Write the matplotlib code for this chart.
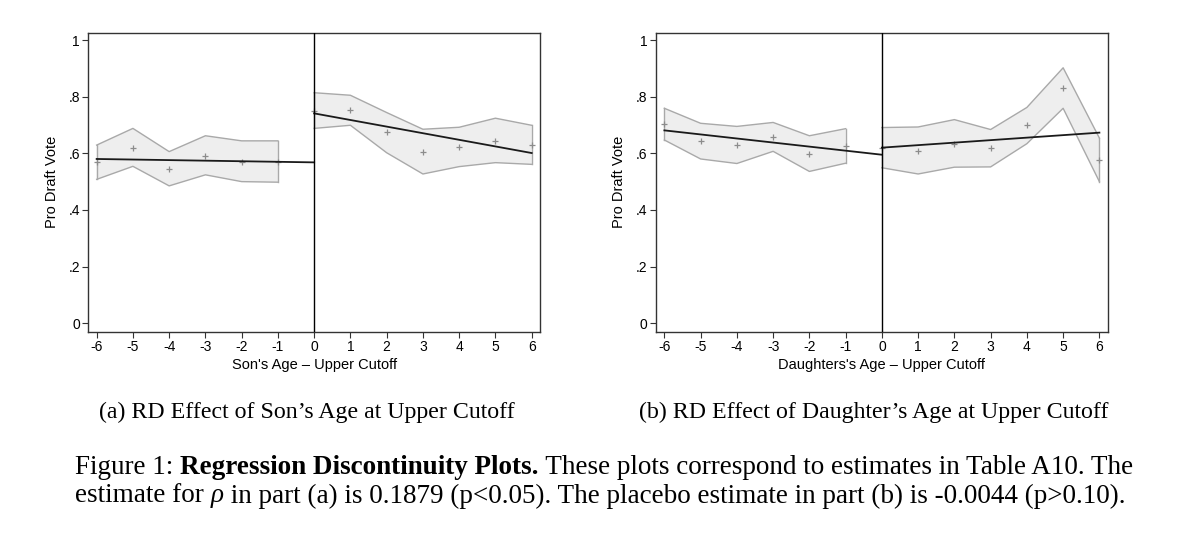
import matplotlib
matplotlib.use("Agg")
import matplotlib.pyplot as plt
import numpy as np

# ---------------- data ----------------
son_x_left = [-6, -5, -4, -3, -2, -1]
son_y_left = [0.568, 0.620, 0.545, 0.592, 0.571, 0.570]
son_hi_left = [0.629, 0.688, 0.606, 0.662, 0.644, 0.644]
son_lo_left = [0.508, 0.554, 0.485, 0.524, 0.500, 0.498]
son_fit_left_x = [-6, 0]
son_fit_left_y = [0.580, 0.568]

son_x_right = [0, 1, 2, 3, 4, 5, 6]
son_y_right = [0.751, 0.752, 0.674, 0.605, 0.622, 0.645, 0.629]
son_hi_right = [0.814, 0.805, 0.744, 0.685, 0.692, 0.724, 0.699]
son_lo_right = [0.688, 0.699, 0.602, 0.527, 0.553, 0.567, 0.561]
son_fit_right_x = [0, 6]
son_fit_right_y = [0.741, 0.601]

dau_x_left = [-6, -5, -4, -3, -2, -1]
dau_y_left = [0.702, 0.644, 0.629, 0.658, 0.599, 0.626]
dau_hi_left = [0.759, 0.706, 0.695, 0.709, 0.662, 0.687]
dau_lo_left = [0.647, 0.580, 0.564, 0.607, 0.536, 0.565]
dau_fit_left_x = [-6, 0]
dau_fit_left_y = [0.681, 0.595]

dau_x_right = [0, 1, 2, 3, 4, 5, 6]
dau_y_right = [0.620, 0.609, 0.633, 0.618, 0.699, 0.829, 0.575]
dau_hi_right = [0.691, 0.693, 0.719, 0.684, 0.762, 0.902, 0.654]
dau_lo_right = [0.549, 0.527, 0.551, 0.552, 0.634, 0.759, 0.500]
dau_fit_right_x = [0, 6]
dau_fit_right_y = [0.620, 0.673]

x_ticks = [-6, -5, -4, -3, -2, -1, 0, 1, 2, 3, 4, 5, 6]
y_ticks = [0, 0.2, 0.4, 0.6, 0.8, 1.0]
y_ticklabels = ["0", ".2", ".4", ".6", ".8", "1"]

xlabels = ["Son's Age \u2013 Upper Cutoff", "Daughters's Age \u2013 Upper Cutoff"]
ylabel = "Pro Draft Vote"
subcaps = ["(a) RD Effect of Son\u2019s Age at Upper Cutoff",
           "(b) RD Effect of Daughter\u2019s Age at Upper Cutoff"]

# ---------------- figure ----------------
fig = plt.figure(figsize=(12, 5.42), dpi=100)
sans = "Liberation Sans"
serif = "Liberation Serif"

band_face = "#eeeeee"
band_edge = "#a9a9a9"
pt_color = "#8c8c8c"

panels = [
    (0.0736, [(son_x_left, son_y_left, son_hi_left, son_lo_left, son_fit_left_x, son_fit_left_y),
              (son_x_right, son_y_right, son_hi_right, son_lo_right, son_fit_right_x, son_fit_right_y)]),
    (0.5467, [(dau_x_left, dau_y_left, dau_hi_left, dau_lo_left, dau_fit_left_x, dau_fit_left_y),
              (dau_x_right, dau_y_right, dau_hi_right, dau_lo_right, dau_fit_right_x, dau_fit_right_y)]),
]

for i, (left, sides) in enumerate(panels):
    ax = fig.add_axes([left, 0.388, 0.3764, 0.5517])
    for (xs, ys, hi, lo, fx, fy) in sides:
        ax.fill_between(xs, lo, hi, facecolor=band_face, edgecolor="none", zorder=1)
        ax.plot(xs, hi, color=band_edge, lw=1.0, zorder=2)
        ax.plot(xs, lo, color=band_edge, lw=1.0, zorder=2)
        ax.plot([xs[0], xs[0]], [lo[0], hi[0]], color=band_edge, lw=1.0, zorder=2)
        ax.plot([xs[-1], xs[-1]], [lo[-1], hi[-1]], color=band_edge, lw=1.0, zorder=2)
        ax.plot(xs, ys, linestyle="none", marker="+", color=pt_color, ms=4.5, mew=0.9, zorder=3)
        ax.plot(fx, fy, color="#1a1a1a", lw=1.3, zorder=4)
    ax.axvline(0, color="black", lw=1.0, zorder=5)
    ax.set_xlim(-6.23, 6.23)
    ax.set_ylim(-0.03, 1.026)
    ax.set_xticks(x_ticks)
    ax.set_xticklabels([str(t) for t in x_ticks], fontfamily=sans, fontsize=10)
    ax.set_yticks(y_ticks)
    ax.set_yticklabels(y_ticklabels, fontfamily=sans, fontsize=10)
    ax.tick_params(direction="out", length=4, width=0.8, color="#333333", pad=2)
    for s in ax.spines.values():
        s.set_color("#333333")
        s.set_linewidth(1.0)
    ax.set_xlabel(xlabels[i], fontfamily=sans, fontsize=10.5, labelpad=3)
    ax.set_ylabel(ylabel, fontfamily=sans, fontsize=10.5, labelpad=7)

# subcaptions
fig.text(307 / 1200, 1 - 412 / 542, subcaps[0], fontfamily=serif, fontsize=17.2,
         ha="center", va="center")
fig.text(874 / 1200, 1 - 412 / 542, subcaps[1], fontfamily=serif, fontsize=17.2,
         ha="center", va="center")

# main caption with bold part
fig.canvas.draw()
renderer = fig.canvas.get_renderer()
cap_size = 19.5
line1 = [("Figure 1: ", "normal"), ("Regression Discontinuity Plots.", "bold"),
         (" These plots correspond to estimates in Table A10. The", "normal")]
line2 = [("estimate for ", "normal"), ("\u03c1", "italic"),
         (" in part (a) is 0.1879 (p<0.05). The placebo estimate in part (b) is -0.0044 (p>0.10).", "normal")]
x0 = 75
for line, ypix in [(line1, 467), (line2, 496)]:
    x = x0
    for txt, style in line:
        kw = dict(fontfamily=serif, fontsize=cap_size, va="center", ha="left")
        if style == "bold":
            kw["fontweight"] = "bold"
        if style == "italic":
            kw["fontstyle"] = "italic"
        t = fig.text(x / 1200, 1 - ypix / 542, txt, **kw)
        bb = t.get_window_extent(renderer=renderer)
        x = x + bb.width

fig.savefig("out.png", dpi=100)
